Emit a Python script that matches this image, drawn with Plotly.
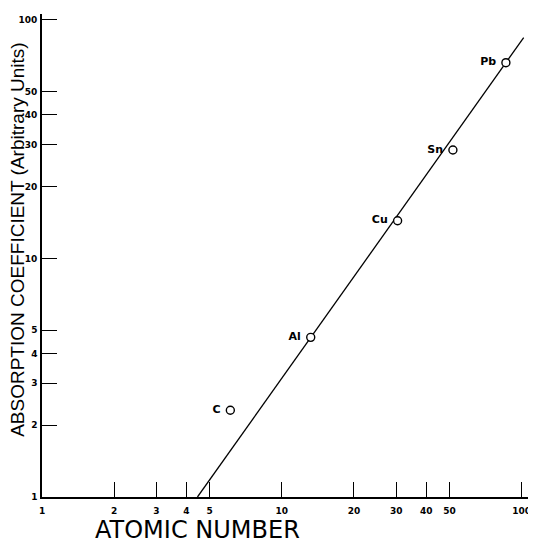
import plotly.graph_objects as go

elements = ["C", "Al", "Cu", "Sn", "Pb"]
atomic_number = [6.1, 13.2, 30.4, 51.7, 86.0]
absorption = [2.31, 4.67, 14.4, 28.5, 66.2]

fit_x = [4.45, 102.0]
fit_y = [1.0, 84.3]

x_ticks = [1, 2, 3, 4, 5, 10, 20, 30, 40, 50, 100]
x_tick_text = ["1", "2", "3", "4", "5", "10", "20", "30", "40", "50", "100"]
y_ticks = [1, 2, 3, 4, 5, 10, 20, 30, 40, 50, 100]
y_tick_text = ["1", "2", "3", "4", "5", "10", "20", "30", "40", "50", "100"]

fig = go.Figure()
fig.add_trace(go.Scatter(x=fit_x, y=fit_y, mode="lines",
                         line=dict(color="black", width=1.3), showlegend=False,
                         hoverinfo="skip"))
fig.add_trace(go.Scatter(x=atomic_number, y=absorption, mode="markers+text",
                         text=[e + " " for e in elements], textposition="middle left",
                         textfont=dict(family="DejaVu Sans", size=11, color="black", weight="bold"),
                         marker=dict(symbol="circle", size=8, color="white",
                                     line=dict(color="black", width=1.4)),
                         showlegend=False))

axis_common = dict(type="log", showgrid=False, zeroline=False, showline=True,
                   linecolor="black", linewidth=1.6, ticks="inside", ticklen=15,
                   tickcolor="black", tickwidth=1.2, automargin=False,
                   tickfont=dict(family="DejaVu Sans", size=9, color="black", weight="bold"))

fig.update_xaxes(range=[0, 2.06], tickmode="array", tickvals=x_ticks,
                 ticktext=x_tick_text, ticklabelstandoff=4, **axis_common)
fig.update_yaxes(range=[0, 2.025], tickmode="array", tickvals=y_ticks,
                 ticktext=y_tick_text, ticklabelstandoff=1, **axis_common)

fig.add_annotation(text="ATOMIC NUMBER", xref="paper", yref="paper",
                   x=0.3138, y=-0.0683, xanchor="center", yanchor="middle", showarrow=False,
                   borderpad=0,
                   font=dict(family="DejaVu Sans", size=24, color="black"))
fig.add_annotation(text="ABSORPTION COEFFICIENT (Arbitrary Units)", xref="paper", yref="paper",
                   x=-0.051, y=0.532, xanchor="center", yanchor="middle",
                   showarrow=False, textangle=-90,
                   font=dict(family="Liberation Sans", size=19, color="black"))

# page body has an 8px margin, so the figure is sized to fit the 536x546 window
fig.update_layout(width=528, height=538,
                  margin=dict(l=34, r=0, t=6, b=49, pad=0, autoexpand=False),
                  paper_bgcolor="white", plot_bgcolor="white")

fig.write_html("out.html")
